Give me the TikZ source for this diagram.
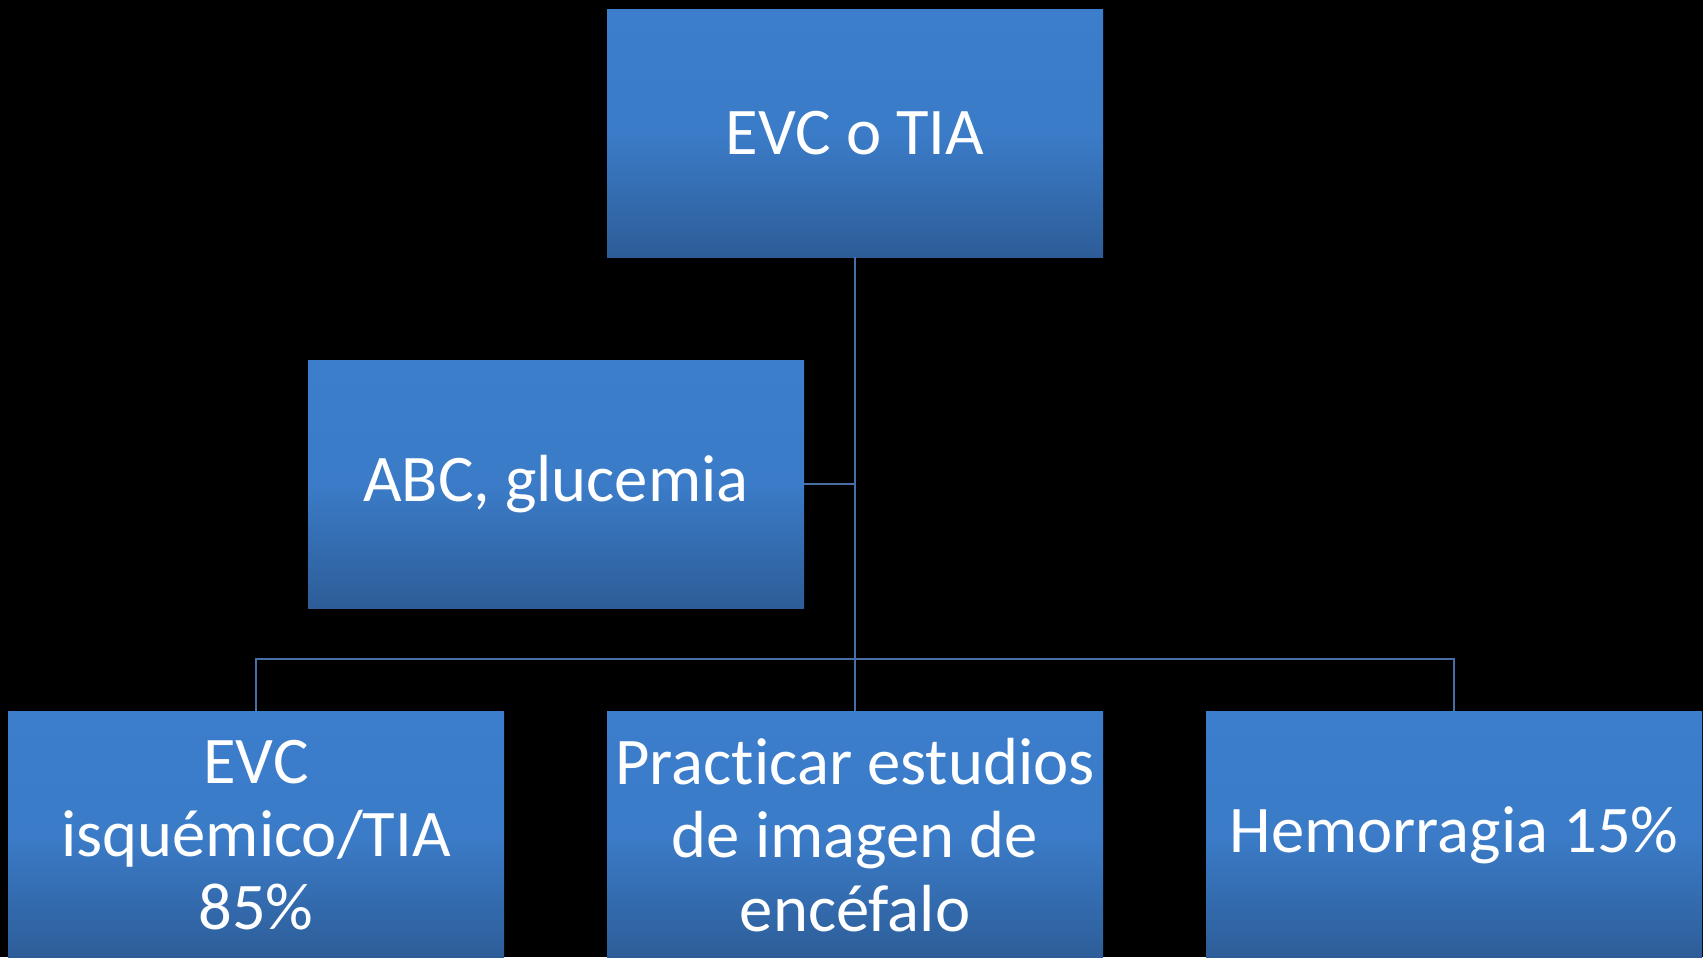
\documentclass[tikz,border=0pt]{standalone}
\usepackage{fontspec}
\setmainfont{Carlito}[Ligatures=NoCommon]
\definecolor{cajaarriba}{RGB}{60,126,204}
\definecolor{cajaabajo}{RGB}{45,93,152}
\definecolor{linea}{RGB}{72,110,165}
\begin{document}
\begin{tikzpicture}[x=0.75pt,y=-0.75pt]
	\tikzset{caja/.style={rectangle, minimum width=372pt, minimum height=186pt, inner sep=0pt,
			top color=cajaarriba, bottom color=cajaabajo, middle color=cajaarriba!92!cajaabajo,
			text=white, align=center, font=\fontsize{50}{55}\selectfont},
		conector/.style={linea, line width=1.5pt}}
	\fill[black] (0,0) rectangle (1703,957);
	\useasboundingbox (0,0) rectangle (1703,957);
	
	
	\node[caja] (evc) at (855,133) {EVC o TIA};
	\node[caja] (abc) at (556,484) {ABC, glucemia};
	
	\node[caja] (isq) at (256,835) {EVC\\isquémico/TIA\\85\%};
	\node[caja] (img) at (855,835) {Practicar estudios\\de imagen de\\encéfalo};
	\node[caja] (hem) at (1454,835) {Hemorragia 15\%};
	
	\coordinate (barra) at (855,659);
	
	\draw[conector] (evc.south) -- (img.north);
	\draw[conector] (abc.east) -- (abc.east -| evc.south);
	\draw[conector] (isq.north) |- (barra) -| (hem.north);
	
	\end{tikzpicture}
\end{document}
